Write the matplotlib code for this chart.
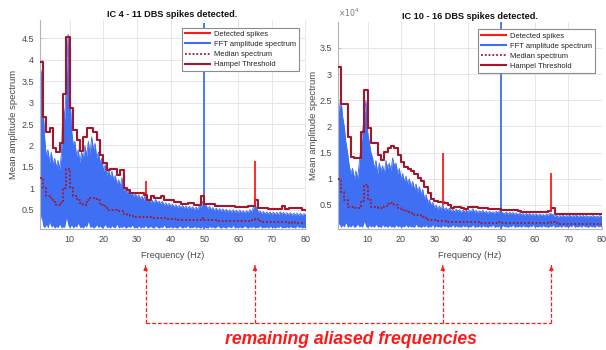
import numpy as np
import matplotlib
matplotlib.use("Agg")
import matplotlib.pyplot as plt
from matplotlib.lines import Line2D
from matplotlib.ticker import FuncFormatter

plt.rcParams['font.family'] = ['Liberation Sans', 'DejaVu Sans']

# ---------------- data ----------------
titles = ["IC 4 - 11 DBS spikes detected.", "IC 10 - 16 DBS spikes detected."]
xticks = [10, 20, 30, 40, 50, 60, 70, 80]
yticks_L = [0.5, 1, 1.5, 2, 2.5, 3, 3.5, 4, 4.5]
yticks_R = [0.5, 1, 1.5, 2, 2.5, 3, 3.5]          # x 1e4
scale_R = 1e4

freq_half = np.arange(1.0, 80.01, 0.5)            # FFT bins (0.5 Hz)
freq_int = np.arange(1, 81)                      # 1 Hz bins for threshold / median

fft_hi_L = [3.9, 3.7, 3.0, 2.2, 1.75, 1.9, 1.6, 1.85, 1.55, 1.7,
            1.5, 1.65, 1.45, 1.8, 3.0, 2.6, 3.6, 4.6, 3.3, 2.4,
            2.0, 2.1, 1.75, 1.9, 1.6, 1.85, 1.7, 2.0, 1.75, 2.1,
            1.8, 2.2, 1.9, 2.05, 1.7, 1.85, 1.6, 1.7, 1.4, 1.55,
            1.3, 1.45, 1.25, 1.4, 1.2, 1.3, 1.1, 1.2, 1.05, 1.25,
            0.95, 1.0, 0.9, 0.95, 0.85, 0.9, 0.8, 0.88, 0.78, 0.85,
            0.75, 0.82, 0.72, 0.9, 0.7, 0.75, 0.68, 0.72, 0.65, 0.74,
            0.66, 0.7, 0.64, 0.7, 0.6, 0.66, 0.6, 0.65, 0.58, 0.63,
            0.56, 0.62, 0.55, 0.6, 0.54, 0.6, 0.53, 0.59, 0.52, 0.58,
            0.52, 0.57, 0.5, 0.56, 0.5, 0.6, 0.55, 0.7, 0.62, 0.6,
            0.52, 0.58, 0.5, 0.55, 0.48, 0.54, 0.47, 0.53, 0.46, 0.52,
            0.46, 0.51, 0.45, 0.5, 0.44, 0.5, 0.44, 0.49, 0.43, 0.49,
            0.43, 0.48, 0.42, 0.48, 0.43, 0.5, 0.45, 0.55, 0.6, 0.55,
            0.44, 0.47, 0.41, 0.46, 0.4, 0.45, 0.4, 0.45, 0.39, 0.44,
            0.39, 0.44, 0.38, 0.45, 0.4, 0.44, 0.38, 0.43, 0.38, 0.43,
            0.37, 0.42, 0.37, 0.42, 0.36, 0.42, 0.36, 0.41, 0.38]
fft_lo_L = [0.10, 0.35, 0.12, 0.08, 0.15, 0.07, 0.20, 0.09, 0.13, 0.07,
            0.11, 0.08, 0.16, 0.07, 0.10, 0.09, 0.30, 0.12, 0.08, 0.14,
            0.07, 0.12, 0.09, 0.18, 0.08, 0.10, 0.07, 0.13, 0.09, 0.22,
            0.08, 0.11, 0.07, 0.10, 0.14, 0.08, 0.12, 0.07, 0.09, 0.15,
            0.08, 0.10, 0.07, 0.12, 0.09, 0.08, 0.16, 0.07, 0.10, 0.08,
            0.12, 0.07, 0.09, 0.11, 0.08, 0.14, 0.07, 0.09, 0.08, 0.12,
            0.07, 0.10, 0.08, 0.13, 0.07, 0.09, 0.11, 0.08, 0.07, 0.12,
            0.09, 0.07, 0.10, 0.08, 0.14, 0.07, 0.09, 0.08, 0.11, 0.07,
            0.10, 0.08, 0.07, 0.12, 0.09, 0.07, 0.10, 0.08, 0.13, 0.07,
            0.09, 0.08, 0.11, 0.07, 0.10, 0.08, 0.07, 0.12, 0.09, 0.08,
            0.07, 0.11, 0.08, 0.10, 0.07, 0.09, 0.12, 0.08, 0.07, 0.10,
            0.08, 0.07, 0.11, 0.09, 0.08, 0.13, 0.07, 0.09, 0.08, 0.10,
            0.07, 0.09, 0.12, 0.08, 0.07, 0.10, 0.08, 0.11, 0.07, 0.09,
            0.08, 0.12, 0.07, 0.09, 0.08, 0.10, 0.07, 0.11, 0.08, 0.09,
            0.07, 0.10, 0.08, 0.12, 0.07, 0.09, 0.08, 0.10, 0.07, 0.11,
            0.08, 0.09, 0.07, 0.12, 0.08, 0.10, 0.07, 0.09, 0.08]
fft_hi_R = [2.4, 2.3, 2.56, 2.2, 2.0, 1.7, 1.5, 1.25, 1.1, 1.2,
            1.0, 1.15, 1.0, 1.3, 1.6, 1.9, 2.2, 2.5, 1.9, 1.7,
            1.5, 1.4, 1.2, 1.35, 1.1, 1.3, 1.15, 1.25, 1.1, 1.35,
            1.2, 1.3, 1.15, 1.4, 1.25, 1.3, 1.1, 1.2, 1.0, 1.1,
            0.95, 1.05, 0.9, 1.0, 0.85, 0.95, 0.8, 0.9, 0.75, 0.85,
            0.7, 0.8, 0.62, 0.7, 0.55, 0.6, 0.5, 0.55, 0.45, 0.5,
            0.42, 0.48, 0.42, 0.5, 0.4, 0.45, 0.4, 0.44, 0.38, 0.42,
            0.37, 0.42, 0.38, 0.41, 0.36, 0.4, 0.37, 0.41, 0.36, 0.4,
            0.37, 0.43, 0.36, 0.4, 0.35, 0.39, 0.36, 0.4, 0.35, 0.38,
            0.34, 0.38, 0.35, 0.37, 0.34, 0.38, 0.35, 0.39, 0.36, 0.35,
            0.33, 0.37, 0.32, 0.36, 0.33, 0.36, 0.32, 0.35, 0.31, 0.35,
            0.31, 0.34, 0.3, 0.34, 0.31, 0.34, 0.3, 0.33, 0.3, 0.33,
            0.29, 0.33, 0.3, 0.32, 0.29, 0.33, 0.3, 0.34, 0.33, 0.32,
            0.28, 0.31, 0.27, 0.3, 0.28, 0.31, 0.27, 0.3, 0.28, 0.31,
            0.27, 0.3, 0.28, 0.31, 0.27, 0.3, 0.28, 0.3, 0.27, 0.3,
            0.27, 0.29, 0.28, 0.3, 0.27, 0.29, 0.27, 0.3, 0.28]
fft_lo_R = [0.09, 0.14, 0.07, 0.11, 0.08, 0.16, 0.07, 0.10, 0.08, 0.12,
            0.07, 0.09, 0.13, 0.08, 0.10, 0.07, 0.18, 0.09, 0.07, 0.11,
            0.08, 0.10, 0.07, 0.13, 0.08, 0.09, 0.07, 0.12, 0.08, 0.10,
            0.07, 0.11, 0.08, 0.09, 0.07, 0.12, 0.08, 0.10, 0.07, 0.09,
            0.08, 0.12, 0.07, 0.10, 0.08, 0.09, 0.07, 0.13, 0.08, 0.09,
            0.07, 0.10, 0.08, 0.11, 0.07, 0.09, 0.08, 0.12, 0.07, 0.10,
            0.08, 0.09, 0.07, 0.11, 0.08, 0.10, 0.07, 0.09, 0.08, 0.12,
            0.07, 0.10, 0.08, 0.09, 0.07, 0.11, 0.08, 0.10, 0.07, 0.09,
            0.08, 0.12, 0.07, 0.09, 0.08, 0.10, 0.07, 0.11, 0.08, 0.09,
            0.07, 0.10, 0.08, 0.12, 0.07, 0.09, 0.08, 0.10, 0.07, 0.11,
            0.08, 0.09, 0.07, 0.10, 0.08, 0.12, 0.07, 0.09, 0.08, 0.10,
            0.07, 0.11, 0.08, 0.09, 0.07, 0.10, 0.08, 0.12, 0.07, 0.09,
            0.08, 0.10, 0.07, 0.11, 0.08, 0.09, 0.07, 0.10, 0.08, 0.12,
            0.07, 0.09, 0.08, 0.10, 0.07, 0.11, 0.08, 0.09, 0.07, 0.10,
            0.08, 0.12, 0.07, 0.09, 0.08, 0.10, 0.07, 0.11, 0.08, 0.09,
            0.07, 0.10, 0.08, 0.09, 0.07, 0.11, 0.08, 0.10, 0.07]

# narrow FFT peaks (single bins)
fft_peak_f_L = [1.1, 50.0]
fft_peak_v_L = [5.3, 4.85]
fft_peak_f_R = [50.0]
fft_peak_v_R = [4.2]

thr_L = [3.95, 2.67, 2.32, 2.40, 1.95, 1.84, 2.05, 3.20, 4.53, 2.87,
         2.36, 2.13, 1.86, 2.20, 2.40, 2.40, 2.32, 2.13, 1.78, 1.59,
         1.43, 1.45, 1.45, 1.31, 1.43, 1.00, 0.97, 0.89, 0.89, 0.89,
         0.89, 0.85, 0.73, 0.81, 0.78, 0.78, 0.81, 0.73, 0.73, 0.73,
         0.67, 0.67, 0.64, 0.64, 0.65, 0.65, 0.62, 0.62, 0.82, 0.63,
         0.63, 0.63, 0.58, 0.58, 0.58, 0.58, 0.58, 0.58, 0.56, 0.56,
         0.56, 0.56, 0.59, 0.59, 0.73, 0.54, 0.54, 0.54, 0.52, 0.52,
         0.52, 0.52, 0.59, 0.52, 0.55, 0.55, 0.55, 0.55, 0.50, 0.50]
med_L = [1.24, 1.00, 0.81, 0.77, 0.69, 0.62, 0.66, 1.00, 1.45, 1.00,
         0.81, 0.73, 0.66, 0.62, 0.73, 0.78, 0.78, 0.73, 0.62, 0.58,
         0.50, 0.50, 0.50, 0.47, 0.47, 0.40, 0.37, 0.35, 0.34, 0.34,
         0.34, 0.33, 0.33, 0.31, 0.30, 0.31, 0.30, 0.30, 0.29, 0.28,
         0.28, 0.27, 0.27, 0.27, 0.26, 0.26, 0.26, 0.26, 0.31, 0.27,
         0.26, 0.25, 0.25, 0.24, 0.24, 0.24, 0.24, 0.23, 0.23, 0.23,
         0.23, 0.23, 0.24, 0.25, 0.28, 0.24, 0.22, 0.21, 0.21, 0.21,
         0.21, 0.21, 0.21, 0.21, 0.20, 0.21, 0.20, 0.20, 0.20, 0.20]
thr_R = [3.14, 2.42, 2.42, 1.80, 1.42, 1.40, 1.40, 1.90, 2.69, 1.97,
         1.68, 1.68, 1.46, 1.36, 1.52, 1.58, 1.63, 1.58, 1.45, 1.33,
         1.22, 1.18, 1.14, 1.10, 1.01, 0.95, 0.85, 0.72, 0.62, 0.58,
         0.56, 0.56, 0.53, 0.50, 0.45, 0.46, 0.46, 0.45, 0.43, 0.47,
         0.47, 0.47, 0.44, 0.44, 0.44, 0.42, 0.42, 0.42, 0.43, 0.40,
         0.40, 0.40, 0.40, 0.40, 0.38, 0.37, 0.37, 0.37, 0.37, 0.37,
         0.37, 0.37, 0.37, 0.38, 0.44, 0.32, 0.32, 0.32, 0.33, 0.33,
         0.32, 0.32, 0.33, 0.32, 0.32, 0.33, 0.33, 0.33, 0.33, 0.33]
med_R = [1.00, 0.75, 0.60, 0.47, 0.47, 0.45, 0.45, 0.57, 0.88, 0.60,
         0.47, 0.47, 0.44, 0.44, 0.49, 0.52, 0.54, 0.50, 0.44, 0.40,
         0.38, 0.36, 0.34, 0.31, 0.30, 0.28, 0.25, 0.22, 0.21, 0.21,
         0.20, 0.19, 0.19, 0.18, 0.18, 0.18, 0.18, 0.17, 0.17, 0.17,
         0.17, 0.17, 0.17, 0.16, 0.16, 0.16, 0.16, 0.16, 0.17, 0.16,
         0.15, 0.15, 0.15, 0.15, 0.15, 0.15, 0.15, 0.15, 0.15, 0.15,
         0.15, 0.15, 0.15, 0.16, 0.18, 0.15, 0.14, 0.14, 0.14, 0.14,
         0.14, 0.14, 0.14, 0.14, 0.14, 0.14, 0.14, 0.14, 0.14, 0.14]

# detected spikes: frequency, base, top
spike_f = [32.5, 65.0]
spike_base_L = [0.86, 0.60]
spike_top_L = [1.16, 1.64]
spike_base_R = [0.50, 0.36]
spike_top_R = [1.49, 1.12]

annotation = "remaining aliased frequencies"
legend_labels = ["Detected spikes", "FFT amplitude spectrum", "Median spectrum", "Hampel Threshold"]

# ---------------- style ----------------
BLUE = '#3f6ff2'
DARKRED = '#a3162b'
RED = '#ff1a1a'
GRID = '#e3e3e3'
SPINE = '#b5b5b5'
TXT = '#4a4a4a'

W, H = 606, 350
fig = plt.figure(figsize=(W / 100, H / 100), dpi=100)
fig.patch.set_facecolor('white')


def box(x0, x1, ytop, ybot):
    return [x0 / W, 1 - ybot / H, (x1 - x0) / W, (ybot - ytop) / H]


axL = fig.add_axes(box(39.5, 305.5, 20, 229))
axR = fig.add_axes(box(337.5, 601.5, 21.7, 229.3))

panels = [
    (axL, 1.0, fft_hi_L, fft_lo_L, fft_peak_f_L, fft_peak_v_L, thr_L, med_L,
     spike_base_L, spike_top_L, (0.05, 4.93), yticks_L, titles[0]),
    (axR, scale_R, fft_hi_R, fft_lo_R, fft_peak_f_R, fft_peak_v_R, thr_R, med_R,
     spike_base_R, spike_top_R, (0.036, 4.0), yticks_R, titles[1]),
]

for (ax, sc, hi, lo, pf, pv, thr, med, sb, st, ylim, yt, title) in panels:
    hi = np.array(hi) * sc
    lo = np.array(lo) * sc
    ax.fill_between(freq_half, lo, hi, color=BLUE, lw=0, zorder=2)
    ax.plot(freq_half, hi, color=BLUE, lw=0.6, zorder=2)
    ax.vlines(pf, ylim[0] * sc, np.array(pv) * sc, color=BLUE, lw=1.3, zorder=2)
    ax.step(freq_int, np.array(med) * sc, where='post', color=DARKRED, lw=1.3,
            linestyle=(0, (1, 1.1)), zorder=3)
    ax.step(freq_int, np.array(thr) * sc, where='post', color=DARKRED, lw=1.5, zorder=4)
    ax.vlines(spike_f, np.array(sb) * sc, np.array(st) * sc, color=RED, lw=1.3, zorder=5)

    ax.set_xlim(1, 80)
    ax.set_ylim(ylim[0] * sc, ylim[1] * sc)
    ax.set_xticks(xticks)
    ax.set_yticks(np.array(yt) * sc)
    ax.yaxis.set_major_formatter(FuncFormatter(lambda v, p, s=sc: '%g' % round(v / s, 3)))
    ax.grid(True, color=GRID, lw=0.6, zorder=0)
    ax.set_axisbelow(True)
    for s in ['top', 'right']:
        ax.spines[s].set_visible(False)
    for s in ['left', 'bottom']:
        ax.spines[s].set_color(SPINE)
        ax.spines[s].set_linewidth(0.8)
    ax.tick_params(direction='in', length=2, width=0.6, color=SPINE,
                   labelsize=6.5, labelcolor=TXT, pad=4)
    ax.set_xlabel("Frequency (Hz)", fontsize=6.6, color=TXT)
    ax.xaxis.set_label_coords(0.5, -0.105)
    ax.set_ylabel("Mean amplitude spectrum", fontsize=6.8, color=TXT)
    ax.text(0.5, 1.026, title, transform=ax.transAxes, ha='center', va='center',
            fontsize=6.6, fontweight='bold', color='#111111')

    handles = [Line2D([], [], color=RED, lw=1.5),
               Line2D([], [], color=BLUE, lw=1.5),
               Line2D([], [], color=DARKRED, lw=1.3, linestyle=(0, (1, 1.1))),
               Line2D([], [], color=DARKRED, lw=1.5)]
    leg = ax.legend(handles, legend_labels, loc='upper right', bbox_to_anchor=(0.976, 0.963),
                    fontsize=5.4, frameon=True, fancybox=False, framealpha=1,
                    edgecolor='#8c8c8c', borderpad=0.4, labelspacing=0.38,
                    handlelength=3.3, handletextpad=0.6, borderaxespad=0)
    leg.get_frame().set_linewidth(0.8)
    for t in leg.get_texts():
        t.set_color('#222222')

axL.yaxis.set_label_coords(-0.079, 0.5)
axR.yaxis.set_label_coords(-0.075, 0.5)
axR.text(0.0, 1.012, r'$\times10^{4}$', transform=axR.transAxes, ha='left', va='bottom',
         fontsize=5.5, color='#777777')

# ---------------- annotation arrows ----------------
inv = fig.transFigure.inverted()
xs = []
for ax in (axL, axR):
    for f in spike_f:
        xs.append(inv.transform(ax.transData.transform((f, ax.get_ylim()[0])))[0])
y_top = 1 - 263 / H
y_bot = 1 - 323 / H
dash = dict(color=RED, lw=0.9, linestyle=(0, (3, 1.6)))
for x in xs:
    fig.add_artist(Line2D([x, x], [y_bot, y_top - 0.012], transform=fig.transFigure, **dash))
    fig.add_artist(matplotlib.patches.FancyArrowPatch(
        (x, y_top - 0.016), (x, y_top), transform=fig.transFigure,
        arrowstyle='-|>', mutation_scale=6, color=RED, lw=0.8))
fig.add_artist(Line2D([xs[0], xs[-1]], [y_bot, y_bot], transform=fig.transFigure, **dash))
fig.text(351 / W, 1 - 340 / H, annotation, ha='center', va='center', color=RED,
         fontsize=12.7, fontweight='bold', fontstyle='italic')

fig.savefig("out.png", dpi=100, facecolor='white')
